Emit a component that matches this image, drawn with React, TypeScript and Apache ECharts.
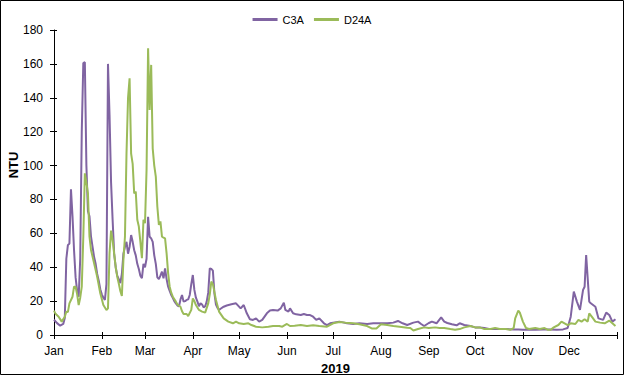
import React, { useEffect, useRef } from "react";
import * as echarts from "echarts";

// Day of year (0 = 1 Jan 2019) and turbidity (NTU) readings
const c3aDays = [0, 2, 4, 6, 7, 8, 9, 10, 11, 12, 13, 14, 15, 16, 17, 18, 19, 20, 21, 22, 23, 24, 25, 26, 27, 28, 29, 30, 31, 32, 33, 34, 35, 36, 37, 38, 39, 40, 41, 42, 43, 44, 45, 46, 47, 48, 49, 50, 51, 52, 53, 54, 55, 56, 57, 58, 59, 60, 61, 62, 63, 64, 65, 66, 67, 68, 69, 70, 71, 72, 73, 74, 75, 76, 77, 78, 79, 80, 81, 82, 83, 84, 85, 86, 87, 88, 89, 90, 91, 92, 93, 94, 95, 96, 97, 98, 99, 100, 101, 102, 103, 104, 105, 106, 107, 108, 110, 112, 115, 118, 121, 123, 125, 127, 129, 131, 133, 135, 138, 140, 142, 145, 147, 149, 150, 152, 153, 155, 157, 160, 162, 164, 166, 168, 170, 172, 175, 177, 179, 181, 185, 188, 190, 194, 198, 203, 207, 211, 216, 220, 223, 226, 229, 233, 236, 238, 240, 243, 245, 248, 251, 253, 255, 258, 261, 263, 266, 270, 273, 276, 279, 282, 286, 289, 293, 298, 301, 304, 308, 312, 317, 321, 326, 330, 333, 335, 337, 339, 341, 343, 344, 345, 347, 348, 351, 353, 356, 358, 360, 362, 364];
const c3aNTU = [9, 7, 5.5, 6.5, 10, 45, 53, 54, 86, 70, 50, 34, 26, 22.6, 45, 120, 160.5, 161, 100, 73, 70, 58, 52, 46, 42, 36, 32, 27, 24, 22, 20.7, 30, 160, 130, 90, 68, 48, 40, 35, 33, 30.6, 36, 48, 52, 55, 48, 52, 59, 55, 50, 47, 42, 39, 35, 33.5, 42, 40, 45, 69.8, 58, 57, 55, 47, 42, 34, 33, 35, 37.4, 33.5, 39.3, 33, 28.5, 26, 23.6, 22, 20, 18.7, 17.5, 16.8, 21, 23.6, 19.7, 20, 20.7, 21, 23.6, 30, 35.4, 26.6, 22, 19.7, 17, 18.7, 18, 16.3, 17, 19.7, 25, 39.3, 39, 38, 24.6, 18, 16, 14.8, 15.5, 16.7, 17.4, 18.1, 18.7, 15.7, 17.7, 12.8, 9.3, 8.9, 9.8, 7.9, 8.9, 12.8, 14.4, 14.8, 14.4, 15.7, 19.1, 14.8, 13.8, 15.7, 12.8, 12.2, 11.8, 12.4, 11.8, 11.8, 10.8, 8.9, 9.8, 6.9, 5.9, 6.9, 7.3, 7.9, 7.3, 6.9, 6.5, 6.9, 6.5, 6.9, 6.9, 6.9, 7.3, 8.3, 6.9, 5.9, 7.3, 7.9, 6.5, 5.3, 7.1, 7.9, 6.9, 10.4, 7.9, 7.1, 6.3, 5.7, 6.9, 5.9, 5.3, 4.5, 4.5, 4.1, 3.5, 3.5, 3.5, 3.5, 3.3, 3.3, 3.1, 3.1, 3.1, 3.3, 3.3, 3.1, 3.3, 4.1, 10.8, 25.6, 19.7, 14.8, 26.6, 28.5, 47.2, 19.7, 18.7, 16.7, 9.8, 8.9, 13.2, 11.8, 7.9, 9.3];

const d24aDays = [0, 1, 3, 5, 7, 8, 9, 10, 12, 13, 14, 15, 16, 17, 18, 19, 20, 21, 22, 23, 24, 26, 28, 30, 32, 34, 35, 36, 37, 38, 39, 40, 41, 42, 43, 44, 45, 46, 47, 48, 49, 50, 51, 52, 53, 54, 55, 56, 57, 58, 59, 60, 61, 62, 63, 64, 65, 66, 67, 68, 69, 70, 71, 72, 73, 74, 75, 76, 77, 79, 80, 82, 83, 84, 86, 87, 89, 90, 91, 92, 94, 96, 98, 100, 101, 102, 103, 105, 107, 110, 113, 116, 118, 120, 123, 126, 128, 131, 135, 139, 142, 146, 148, 151, 153, 156, 160, 164, 168, 172, 177, 181, 185, 189, 194, 198, 203, 206, 209, 212, 216, 220, 224, 229, 231, 233, 236, 240, 243, 247, 250, 253, 257, 260, 263, 266, 270, 273, 276, 279, 283, 286, 289, 293, 296, 298, 299, 301, 302, 304, 306, 308, 312, 315, 318, 320, 322, 324, 327, 329, 331, 333, 335, 338, 340, 342, 344, 346, 347, 349, 351, 354, 357, 360, 362, 364];
const d24aNTU = [14.4, 12.5, 10.8, 7.9, 10.8, 13.8, 13.5, 18.7, 22.6, 28.5, 28.5, 24, 17.7, 22, 28.5, 58, 95.4, 90, 83.6, 58, 50.2, 42.3, 34.4, 24.6, 17.7, 14.8, 15.7, 48.2, 61.6, 56, 48, 40, 34.4, 30.4, 26, 23, 44.3, 58, 107, 140, 151.5, 107, 101, 83.6, 84.6, 68, 64, 55, 45.3, 68, 66, 97.4, 169.2, 132.8, 159.4, 110, 100, 93.5, 75.7, 65, 67, 58, 57.5, 57, 48.2, 36.4, 28.5, 25, 22.6, 19.7, 18, 16.7, 14, 12.4, 12.4, 11.2, 14.8, 21.6, 20, 17.7, 14.8, 13.8, 13.2, 18.7, 24, 31.5, 30, 20.7, 13.8, 9.8, 7.9, 6.9, 7.9, 6.9, 6.5, 6.9, 5.9, 4.9, 4.5, 4.9, 5.3, 5.3, 4.9, 6.5, 5.3, 5.5, 5.9, 5.3, 5.7, 5.3, 4.9, 6.9, 7.7, 7.3, 6.9, 6.3, 5.3, 3.9, 3.9, 6.3, 5.9, 5.3, 4.9, 4.3, 4.1, 2.7, 3.5, 4.5, 4.1, 4.5, 4.1, 4.1, 3.5, 3.1, 3.5, 4.5, 5.3, 4.5, 4.5, 3.5, 3.5, 4.1, 3.5, 3.5, 3.1, 4.1, 9.8, 14.4, 13.2, 7.9, 4.1, 3.5, 4.1, 3.5, 4.1, 3.1, 3.1, 4.5, 5.9, 7.9, 6.9, 5.9, 6.9, 6.5, 8.9, 7.9, 9.3, 7.9, 12.8, 10.4, 7.9, 7.3, 6.9, 8.5, 6.9, 5.3];

const monthStarts = [0, 31, 59, 90, 120, 151, 181, 212, 243, 273, 304, 334];
const monthTicks = [...monthStarts, 365];
const monthNames = ["Jan", "Feb", "Mar", "Apr", "May", "Jun", "Jul", "Aug", "Sep", "Oct", "Nov", "Dec"];
const yearLabel = "2019";

const FONT = "'Liberation Sans', Arial, sans-serif";

export default function App() {
  const ref = useRef<HTMLDivElement>(null);
  useEffect(() => {
    if (!ref.current) return;
    const chart = echarts.init(ref.current, null, { renderer: "svg" });
    const pair = (days: number[], vals: number[]) => days.map((d, i) => [d, vals[i]]);
    const labelFmt = (v: number) => {
      const i = monthStarts.indexOf(Math.round(v));
      return i >= 0 ? monthNames[i] : "";
    };
    chart.setOption({
      animation: false,
      backgroundColor: "#fff",
      textStyle: { fontFamily: FONT },
      grid: { left: 54, right: 7, top: 30, bottom: 40, containLabel: false, outerBoundsMode: "none" },
      legend: {
        top: 9,
        left: "center",
        itemWidth: 25,
        itemHeight: 3,
        itemGap: 10,
        icon: "rect",
        textStyle: { fontFamily: FONT, fontSize: 11, color: "#000" },
        data: ["C3A", "D24A"],
      },
      xAxis: [
        {
          type: "value",
          min: 0,
          max: 365,
          name: yearLabel,
          nameLocation: "middle",
          nameGap: 23,
          nameTextStyle: { fontFamily: FONT, fontSize: 13, fontWeight: "bold", color: "#000" },
          axisLine: { show: true, lineStyle: { color: "#000", width: 1 } },
          axisTick: { show: true, inside: false, length: 4, customValues: monthTicks, lineStyle: { color: "#000" } },
          axisLabel: { show: true, customValues: monthStarts, formatter: labelFmt, fontSize: 12, color: "#000", margin: 10, fontFamily: FONT },
          splitLine: { show: false },
        },
        {
          type: "value",
          min: 0,
          max: 365,
          position: "bottom",
          axisLine: { show: false },
          axisTick: { show: true, inside: true, length: 3, customValues: monthTicks, lineStyle: { color: "#000" } },
          axisLabel: { show: false },
          splitLine: { show: false },
        },
      ],
      yAxis: [
        {
          type: "value",
          min: 0,
          max: 180,
          interval: 20,
          position: "left",
          axisLine: { show: true, lineStyle: { color: "#000", width: 1 } },
          axisTick: { show: true, inside: false, length: 4, lineStyle: { color: "#000" } },
          axisLabel: { fontSize: 12, color: "#000", margin: 11, fontFamily: FONT },
          splitLine: { show: false },
        },
        {
          type: "value",
          min: 0,
          max: 180,
          interval: 20,
          position: "left",
          offset: 0,
          axisLine: { show: false },
          axisTick: { show: true, inside: true, length: 3, lineStyle: { color: "#000" } },
          axisLabel: { show: false },
          splitLine: { show: false },
        },
      ],
      series: [
        {
          name: "C3A",
          type: "line",
          data: pair(c3aDays, c3aNTU),
          showSymbol: false,
          symbol: "none",
          lineStyle: { color: "#8064A2", width: 2 },
          itemStyle: { color: "#8064A2" },
          z: 2,
        },
        {
          name: "D24A",
          type: "line",
          data: pair(d24aDays, d24aNTU),
          showSymbol: false,
          symbol: "none",
          lineStyle: { color: "#9BBB59", width: 2 },
          itemStyle: { color: "#9BBB59" },
          z: 3,
        },
      ],
      graphic: [
        {
          type: "rect",
          shape: { x: 0.5, y: 0.5, width: 623, height: 374 },
          style: { fill: "none", stroke: "#000", lineWidth: 1 },
          silent: true,
        },
        {
          type: "text",
          x: 13,
          y: 165,
          rotation: Math.PI / 2,
          style: { text: "NTU", font: `bold 13px ${FONT}`, fill: "#000", align: "center", verticalAlign: "middle" },
        },
      ],
    });
    return () => chart.dispose();
  }, []);
  return <div ref={ref} style={{ position: "fixed", left: 0, top: 0, width: 624, height: 375 }} />;
}
